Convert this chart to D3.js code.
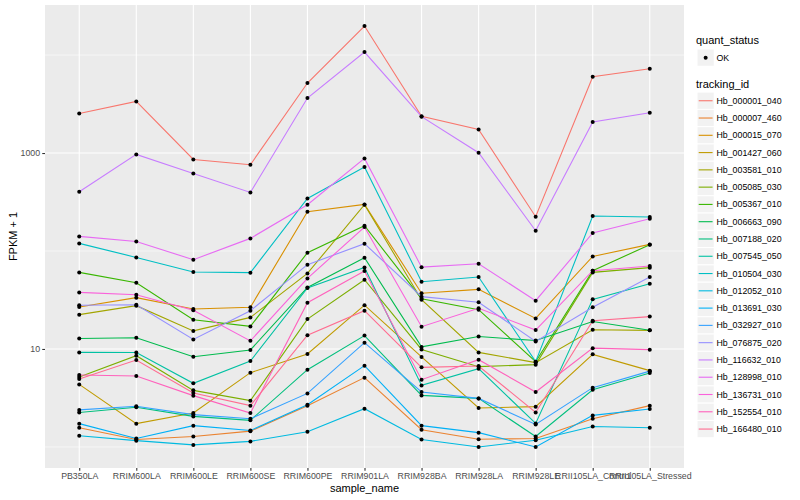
<!DOCTYPE html>
<html>
<head>
<meta charset="utf-8">
<script src="https://cdn.jsdelivr.net/npm/d3@7"></script>
<style>
    body { margin: 0; background: #fff; }
    svg { display: block; font-family: "Liberation Sans", Arial, Helvetica, sans-serif; }
</style>
</head>
<body>
<svg id="chart" width="800" height="500"></svg>
<script>
var samples = ["PB350LA", "RRIM600LA", "RRIM600LE", "RRIM600SE", "RRIM600PE", "RRIM901LA",
    "RRIM928BA", "RRIM928LA", "RRIM928LE", "RRII105LA_Control", "RRII105LA_Stressed"];

var trackingIds = ["Hb_000001_040", "Hb_000007_460", "Hb_000015_070", "Hb_001427_060", "Hb_003581_010",
    "Hb_005085_030", "Hb_005367_010", "Hb_006663_090", "Hb_007188_020", "Hb_007545_050",
    "Hb_010504_030", "Hb_012052_010", "Hb_013691_030", "Hb_032927_010", "Hb_076875_020",
    "Hb_116632_010", "Hb_128998_010", "Hb_136731_010", "Hb_152554_010", "Hb_166480_010"];

var quantStatus = ["OK"];

// FPKM per sample, same order as samples
var hb_000001_040 = [2534, 3362, 859, 759, 5177, 19770, 2370, 1740, 223, 6007, 7247];
var hb_000007_460 = [0.57, 0.19, 0.28, 0.45, 1.64, 4.10, 0.50, 0.20, 0.22, 0.94, 1.64];
var hb_000015_070 = [25.8, 32.4, 24.6, 25.7, 251, 298, 36.1, 39.6, 19.5, 87.1, 115.8];
var hb_001427_060 = [3.35, 0.73, 1.22, 4.73, 7.89, 27.0, 7.29, 1.50, 1.58, 7.81, 5.01];
var hb_003581_010 = [21.4, 26.7, 14.3, 20.0, 58.1, 296, 30.8, 8.23, 6.25, 14.7, 14.5];
var hb_005085_030 = [4.18, 7.54, 2.78, 1.97, 19.2, 49.9, 8.9, 5.6, 5.92, 59.5, 66.6];
var hb_005367_010 = [59.5, 46.5, 18.9, 16.0, 95.1, 180, 31.6, 24.2, 6.42, 62.0, 115];
var hb_006663_090 = [11.8, 12.0, 7.34, 8.77, 41.5, 84.4, 9.5, 12.4, 11.2, 18.1, 14.5];
var hb_007188_020 = [1.25, 1.54, 1.05, 0.87, 5.15, 12.7, 2.36, 2.13, 0.28, 2.84, 4.69];
var hb_007545_050 = [8.23, 8.2, 3.46, 6.54, 40.9, 67.0, 3.25, 5.29, 0.74, 31.1, 45.4];
var hb_010504_030 = [118.6, 85.0, 60.0, 59.1, 343, 719, 47.6, 53.3, 6.42, 226.6, 221.3];
var hb_012052_010 = [0.30, 0.16, 0.05, 0.14, 0.43, 1.46, 0.19, 0, 0.17, 0.62, 0.57];
var hb_013691_030 = [0.73, 0.22, 0.65, 0.47, 1.70, 5.76, 0.65, 0.40, 0, 1.10, 1.44];
var hb_032927_010 = [1.39, 1.60, 1.14, 0.94, 2.52, 10.6, 2.64, 2.13, 0.70, 3.03, 4.94];
var hb_076875_020 = [26.9, 27.3, 11.5, 23.6, 71.5, 117.7, 33.2, 29.0, 10.95, 25.6, 53.3];
var hb_116632_010 = [402, 967, 618, 395, 3639, 10739, 2349, 1006, 160, 2071, 2577];
var hb_128998_010 = [140, 124, 80.5, 133.5, 296, 880, 67.4, 73.2, 30.1, 151.6, 212.6];
var hb_136731_010 = [36.8, 34.8, 23.8, 11.1, 51.5, 174.8, 15.9, 25.0, 14.6, 62.0, 69.3];
var hb_152554_010 = [4.43, 4.30, 2.34, 1.22, 28.7, 61.5, 3.86, 6.78, 2.64, 9.2, 8.84];
var hb_166480_010 = [3.94, 6.72, 2.56, 1.64, 12.8, 23.6, 5.49, 5.71, 1.25, 18.4, 20.4];

var seriesValues = [hb_000001_040, hb_000007_460, hb_000015_070, hb_001427_060, hb_003581_010,
    hb_005085_030, hb_005367_010, hb_006663_090, hb_007188_020, hb_007545_050,
    hb_010504_030, hb_012052_010, hb_013691_030, hb_032927_010, hb_076875_020,
    hb_116632_010, hb_128998_010, hb_136731_010, hb_152554_010, hb_166480_010];

// ggplot default hue palette for 20 levels
var palette = ["#F8766D", "#EA8331", "#D89000", "#C09B00", "#A3A500", "#7CAE00", "#39B600", "#00BB4E",
    "#00BF7D", "#00C1A3", "#00BFC4", "#00BAE0", "#00B0F6", "#35A2FF", "#9590FF", "#C77CFF",
    "#E76BF3", "#FA62DB", "#FF62BC", "#FF6C90"];

var panel = {left: 45, right: 684, top: 5, bottom: 468};
var textGrey = "#4D4D4D";

var series = trackingIds.map(function (id, i) {
    return {id: id, color: palette[i], values: seriesValues[i]};
});

var svg = d3.select("#chart");

var x = d3.scalePoint()
    .domain(samples)
    .range([panel.left, panel.right])
    .padding(0.6);

// log10 scale on FPKM + 1, expanded 5% like ggplot
var logExtent = d3.extent([].concat.apply([], seriesValues), function (v) {
    return Math.log10(v + 1);
});
var expand = (logExtent[1] - logExtent[0]) * 0.05;
var y = d3.scaleLog()
    .domain([Math.pow(10, logExtent[0] - expand), Math.pow(10, logExtent[1] + expand)])
    .range([panel.bottom, panel.top]);

// panel
svg.append("rect")
    .attr("x", panel.left)
    .attr("y", panel.top)
    .attr("width", panel.right - panel.left)
    .attr("height", panel.bottom - panel.top)
    .attr("fill", "#EBEBEB");

var grid = svg.append("g").attr("class", "grid");

grid.selectAll("line.minor")
    .data([1, 100, 10000])
    .enter().append("line")
    .attr("class", "minor")
    .attr("x1", panel.left).attr("x2", panel.right)
    .attr("y1", function (d) { return y(d); })
    .attr("y2", function (d) { return y(d); })
    .attr("stroke", "#fff")
    .attr("stroke-width", 0.55);

grid.selectAll("line.major")
    .data([10, 1000])
    .enter().append("line")
    .attr("class", "major")
    .attr("x1", panel.left).attr("x2", panel.right)
    .attr("y1", function (d) { return y(d); })
    .attr("y2", function (d) { return y(d); })
    .attr("stroke", "#fff")
    .attr("stroke-width", 1.1);

grid.selectAll("line.vert")
    .data(samples)
    .enter().append("line")
    .attr("class", "vert")
    .attr("x1", function (d) { return x(d); })
    .attr("x2", function (d) { return x(d); })
    .attr("y1", panel.top).attr("y2", panel.bottom)
    .attr("stroke", "#fff")
    .attr("stroke-width", 1.1);

// lines
var line = d3.line()
    .x(function (d, i) { return x(samples[i]); })
    .y(function (d) { return y(d + 1); });

svg.append("g")
    .attr("class", "lines")
    .selectAll("path")
    .data(series)
    .enter().append("path")
    .attr("d", function (d) { return line(d.values); })
    .attr("fill", "none")
    .attr("stroke", function (d) { return d.color; })
    .attr("stroke-width", 1.1);

// points on top
var points = [];
series.forEach(function (s) {
    s.values.forEach(function (v, i) {
        points.push({sample: samples[i], value: v});
    });
});

svg.append("g")
    .attr("class", "points")
    .selectAll("circle")
    .data(points)
    .enter().append("circle")
    .attr("cx", function (d) { return x(d.sample); })
    .attr("cy", function (d) { return y(d.value + 1); })
    .attr("r", 2)
    .attr("fill", "#000");

// axes
var yAxis = svg.append("g")
    .attr("transform", "translate(" + panel.left + ",0)")
    .call(d3.axisLeft(y).tickValues([10, 1000]).tickFormat(d3.format("d")).tickSize(2.75).tickPadding(2.2));

var xAxis = svg.append("g")
    .attr("transform", "translate(0," + panel.bottom + ")")
    .call(d3.axisBottom(x).tickSize(2.75).tickPadding(2.2));

[xAxis, yAxis].forEach(function (ax) {
    ax.select(".domain").remove();
    ax.selectAll(".tick line").attr("stroke", "#333333").attr("stroke-width", 1.1);
    ax.selectAll(".tick text")
        .attr("fill", textGrey)
        .style("font-size", "8.8px")
        .style("font-family", "\"Liberation Sans\", Arial, sans-serif");
});

svg.append("text")
    .attr("x", (panel.left + panel.right) / 2)
    .attr("y", 492)
    .attr("text-anchor", "middle")
    .style("font-size", "11px")
    .text("sample_name");

svg.append("text")
    .attr("transform", "translate(17," + ((panel.top + panel.bottom) / 2) + ") rotate(-90)")
    .attr("text-anchor", "middle")
    .style("font-size", "11px")
    .text("FPKM + 1");

// legends
var keySize = 17.28;
var legendX = 697;

var legend = svg.append("g").attr("class", "legend");

legend.append("text")
    .attr("x", legendX - 1)
    .attr("y", 44)
    .style("font-size", "11px")
    .text("quant_status");

var statusKey = legend.selectAll("g.status")
    .data(quantStatus)
    .enter().append("g")
    .attr("class", "status")
    .attr("transform", function (d, i) { return "translate(" + legendX + "," + (49 + i * keySize) + ")"; });

statusKey.append("rect")
    .attr("width", keySize).attr("height", keySize)
    .attr("fill", "#F2F2F2").attr("stroke", "#fff");

statusKey.append("circle")
    .attr("cx", keySize / 2).attr("cy", keySize / 2)
    .attr("r", 2).attr("fill", "#000");

statusKey.append("text")
    .attr("x", keySize + 2.2)
    .attr("y", keySize / 2)
    .attr("dy", "0.35em")
    .attr("fill", "#000")
    .style("font-size", "8.8px")
    .text(function (d) { return d; });

legend.append("text")
    .attr("x", legendX - 1)
    .attr("y", 88)
    .style("font-size", "11px")
    .text("tracking_id");

var idKey = legend.selectAll("g.idkey")
    .data(series)
    .enter().append("g")
    .attr("class", "idkey")
    .attr("transform", function (d, i) { return "translate(" + legendX + "," + (92.1 + i * keySize) + ")"; });

idKey.append("rect")
    .attr("width", keySize).attr("height", keySize)
    .attr("fill", "#F2F2F2").attr("stroke", "#fff");

idKey.append("line")
    .attr("x1", 1.7).attr("x2", keySize - 1.7)
    .attr("y1", keySize / 2).attr("y2", keySize / 2)
    .attr("stroke", function (d) { return d.color; })
    .attr("stroke-width", 1.1);

idKey.append("text")
    .attr("x", keySize + 2.2)
    .attr("y", keySize / 2)
    .attr("dy", "0.35em")
    .attr("fill", "#000")
    .style("font-size", "8.8px")
    .text(function (d) { return d.id; });
</script>
</body>
</html>
